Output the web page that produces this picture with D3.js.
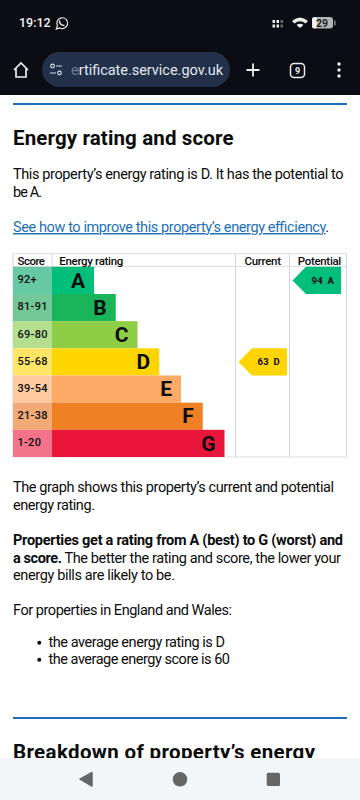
<!DOCTYPE html>
<html>
<head>
<meta charset="utf-8">
<script src="https://cdn.jsdelivr.net/npm/d3@7"></script>
<style>
  html, body { margin: 0; padding: 0; background: #fff; overflow: hidden; }
  text { font-family: Roboto, sans-serif; fill: #0b0c0c; }
</style>
</head>
<body>
<div id="page"></div>
<script>
// energy rating bands, top to bottom
const ratings = ["A", "B", "C", "D", "E", "F", "G"];
const scoreRanges = ["92+", "81-91", "69-80", "55-68", "39-54", "21-38", "1-20"];
const barLengths = [2, 3, 4, 5, 6, 7, 8];
const barColors = ["#00bf7a", "#19b459", "#8dce46", "#ffd500", "#fcaa65", "#ef8023", "#e9153b"];
const scoreColors = ["#66c9a6", "#74c797", "#b4df8f", "#ffe566", "#fcc9a0", "#f2aa76", "#f2738a"];

const columnHeaders = ["Score", "Energy rating", "Current", "Potential"];
const currentScore = 63;
const currentRating = "D";
const potentialScore = 94;
const potentialRating = "A";

const width = 360;
const height = 800;

const svg = d3.select("#page")
  .append("svg")
  .attr("width", width)
  .attr("height", height)
  .style("display", "block");

//////////////////////////////////
/////////// page chrome //////////
//////////////////////////////////

svg.append("rect").attr("width", width).attr("height", 95).attr("fill", "#0b0c14");

svg.append("text").text("19:12")
  .attr("x", 19).attr("y", 27)
  .style("fill", "#f2f2f2").style("font-size", "12.5px").style("font-weight", 500);

// whatsapp icon
svg.append("path")
  .attr("d", "M56.3 29 L57.4 25.6 A5.4 5.4 0 1 1 59.6 27.9 Z")
  .attr("fill", "none").attr("stroke", "#eee").attr("stroke-width", 1.2);
svg.append("path")
  .attr("d", "M59.5 20.5 Q59.5 25.5 64.5 25.5")
  .attr("fill", "none").attr("stroke", "#eee").attr("stroke-width", 1.4);

// signal, wifi and battery
svg.append("g").selectAll("rect")
  .data([0, 1, 2, 3, 4, 5])
  .join("rect")
    .attr("x", d => 272.5 + (d % 3) * 4)
    .attr("y", d => d < 3 ? 20 : 24.5)
    .attr("width", 2.5)
    .attr("height", 3)
    .attr("fill", d => d % 3 == 2 ? "#666" : "#eee");
svg.append("path").attr("d", "M292 21 Q300 14 308 21 L305.5 23.5 Q300 19 294.5 23.5 Z M296.5 25 Q300 22.5 303.5 25 L300 28 Z").attr("fill", "#eee");
svg.append("rect").attr("x", 312).attr("y", 17).attr("width", 21).attr("height", 11.5).attr("rx", 3).attr("fill", "#b4b4b4");
svg.append("rect").attr("x", 312).attr("y", 17).attr("width", 5).attr("height", 11.5).attr("rx", 2.5).attr("fill", "#f0f0f0");
svg.append("rect").attr("x", 334).attr("y", 20.5).attr("width", 1.5).attr("height", 5).attr("fill", "#888");
svg.append("text").text("29")
  .attr("x", 322).attr("y", 27).attr("text-anchor", "middle")
  .style("fill", "#222").style("font-size", "10.5px").style("font-weight", 700);

// toolbar
svg.append("path")
  .attr("d", "M14 70 L21 63 L28 70 M16 68.5 V77 H26 V68.5")
  .attr("fill", "none").attr("stroke", "#eee").attr("stroke-width", 1.7);
svg.append("rect").attr("x", 42).attr("y", 52).attr("width", 188).attr("height", 35).attr("rx", 17.5).attr("fill", "#22304a");
svg.append("g").attr("stroke", "#d8dce4").attr("stroke-width", 1.2).attr("fill", "none")
  .call(g => {
    g.append("circle").attr("cx", 52.5).attr("cy", 66).attr("r", 1.8);
    g.append("path").attr("d", "M56 66 H62 M50 73 H56");
    g.append("circle").attr("cx", 59.5).attr("cy", 73).attr("r", 1.8);
  });
svg.append("text").text("ertificate.service.gov.uk")
  .attr("x", 71).attr("y", 75)
  .attr("textLength", 152)
  .style("fill", "#e4e8ee").style("font-size", "14.5px");
svg.append("rect").attr("x", 70).attr("y", 60).attr("width", 8).attr("height", 20).attr("fill", "#22304a").attr("opacity", 0.6);
svg.append("path").attr("d", "M246.5 70 H259.5 M253 63.5 V76.5").attr("stroke", "#eee").attr("stroke-width", 1.8);
svg.append("rect").attr("x", 290.5).attr("y", 63.5).attr("width", 14).attr("height", 14).attr("rx", 3.5)
  .attr("fill", "none").attr("stroke", "#eee").attr("stroke-width", 1.5);
svg.append("text").text("9")
  .attr("x", 297.5).attr("y", 74).attr("text-anchor", "middle")
  .style("fill", "#eee").style("font-size", "9px").style("font-weight", 700);
svg.append("g").selectAll("circle")
  .data([64, 70, 76])
  .join("circle")
    .attr("cx", 339).attr("cy", d => d).attr("r", 1.7).attr("fill", "#eee");

//////////////////////////////////
/////////// page text ////////////
//////////////////////////////////

const rule = y => svg.append("rect").attr("x", 13).attr("y", y).attr("width", 334).attr("height", 2).attr("fill", "#1d70b8");
rule(103);
rule(717);

// the gov.uk font has other widths than Roboto, so each line is fitted to where it ends
const bodySize = "14.5px";
const bodyLine = (str, y, end, weight) => svg.append("text").text(str)
  .attr("x", 13).attr("y", y)
  .attr("textLength", end - 13)
  .style("font-size", bodySize)
  .style("font-weight", weight || 400);

svg.append("text").text("Energy rating and score")
  .attr("x", 13).attr("y", 144.5)
  .attr("textLength", 220.5)
  .style("font-size", "20.5px").style("font-weight", 700);

bodyLine("This property’s energy rating is D. It has the potential to", 179.3, 343.5);
bodyLine("be A.", 196.7, 42);

const linkLine = bodyLine("", 232, 329);
linkLine.append("tspan").text("See how to improve this property’s energy efficiency")
  .style("fill", "#1d70b8").style("text-decoration", "underline");
linkLine.append("tspan").text(".");

bodyLine("The graph shows this property’s current and potential", 492.3, 334);
bodyLine("energy rating.", 509.5, 95);

bodyLine("Properties get a rating from A (best) to G (worst) and", 545, 343, 700);
const scoreLine = bodyLine("", 562.7, 341);
scoreLine.append("tspan").text("a score.").style("font-weight", 700);
scoreLine.append("tspan").text(" The better the rating and score, the lower your");
bodyLine("energy bills are likely to be.", 580, 175);

bodyLine("For properties in England and Wales:", 615, 232);

const bullets = ["the average energy rating is D", "the average energy score is 60"];
const bulletEnds = [225, 230];
svg.append("g").selectAll("text")
  .data(bullets)
  .join("text")
    .text(d => d)
    .attr("x", 48.5)
    .attr("y", (d, i) => 647 + i * 17)
    .attr("textLength", (d, i) => bulletEnds[i] - 48.5)
    .style("font-size", bodySize);
svg.append("g").selectAll("circle")
  .data(bullets)
  .join("circle")
    .attr("cx", 39.3)
    .attr("cy", (d, i) => 642.7 + i * 17)
    .attr("r", 2)
    .attr("fill", "#0b0c0c");

svg.append("text").text("Breakdown of property’s energy")
  .attr("x", 13).attr("y", 758.5)
  .attr("textLength", 302)
  .style("font-size", "20.5px").style("font-weight", 700);

//////////////////////////////////
/////////// the chart ////////////
//////////////////////////////////

const chart = svg.append("g").attr("class", "chart");

const y = d3.scaleBand()
  .domain(ratings)
  .range([266.8, 457]);

const x = d3.scaleLinear()
  .domain([0, 8])
  .range([50.5, 224.5]);

const scoreX = 13;
const barX = 52;

// grid lines sit under the bars
chart.append("g").selectAll("line")
  .data([235.5, 289.5, 346.5, 13])
  .join("line")
    .attr("x1", d => d).attr("x2", d => d)
    .attr("y1", 254).attr("y2", 457)
    .attr("stroke", "#d6d6d6").attr("stroke-width", 1);
chart.append("line").attr("x1", 13).attr("x2", 347).attr("y1", 253.8).attr("y2", 253.8).attr("stroke", "#dcdcdc");
chart.append("line").attr("x1", 13).attr("x2", 347).attr("y1", 266.3).attr("y2", 266.3).attr("stroke", "#dcdcdc");
chart.append("line").attr("x1", 13).attr("x2", 347).attr("y1", 457).attr("y2", 457).attr("stroke", "#dcdcdc");
chart.append("line").attr("x1", 52).attr("x2", 52).attr("y1", 254).attr("y2", 267).attr("stroke", "#dcdcdc");

const headerX = [17.5, 59.3, 244.5, 297.8];
const headerW = [27.5, 64, 36.5, 43.5];
chart.append("g").selectAll("text")
  .data(columnHeaders)
  .join("text")
    .text(d => d)
    .attr("x", (d, i) => headerX[i])
    .attr("y", 264.7)
    .attr("textLength", (d, i) => headerW[i])
    .style("font-size", "11.5px")
    .style("font-weight", 500);

const rows = chart.append("g").selectAll("g")
  .data(ratings)
  .join("g");

rows.append("rect")
  .attr("x", scoreX)
  .attr("y", d => y(d))
  .attr("width", barX - scoreX)
  .attr("height", y.bandwidth())
  .attr("fill", (d, i) => scoreColors[i]);

rows.append("rect")
  .attr("x", barX)
  .attr("y", d => y(d))
  .attr("width", (d, i) => x(barLengths[i]) - barX)
  .attr("height", y.bandwidth())
  .attr("fill", (d, i) => barColors[i]);

rows.append("text")
  .text((d, i) => scoreRanges[i])
  .attr("x", 17.5)
  .attr("y", d => y(d) + 16.5)
  .style("font-size", "11px")
  .style("font-weight", 500)
  .style("letter-spacing", "0.3px");

rows.append("text")
  .text(d => d)
  .attr("x", (d, i) => x(barLengths[i]) - 9)
  .attr("y", d => y(d) + 20.8)
  .attr("text-anchor", "end")
  .style("font-size", "21px")
  .style("font-weight", 700);

// arrow tags for current and potential
function tag(score, rating, right) {
  const top = y(rating);
  const h = y.bandwidth();
  const left = right - 48.5;
  chart.append("path")
    .attr("d", d3.line()([[right, top], [left + 13.5, top], [left, top + h / 2], [left + 13.5, top + h], [right, top + h]]) + "Z")
    .attr("fill", barColors[ratings.indexOf(rating)]);
  chart.append("text")
    .text(score)
    .attr("x", right - 29.4)
    .attr("y", top + h / 2 + 3.3)
    .style("font-size", "9.5px")
    .style("font-weight", 700)
    .style("letter-spacing", "0.3px");
  chart.append("text")
    .text(rating)
    .attr("x", right - 13.5)
    .attr("y", top + h / 2 + 3.3)
    .style("font-size", "9.5px")
    .style("font-weight", 700);
}
tag(currentScore, currentRating, 287);
tag(potentialScore, potentialRating, 341);

//////////////////////////////////
/////////// nav bar //////////////
//////////////////////////////////

svg.append("rect").attr("y", 758).attr("width", width).attr("height", 42).attr("fill", "#f3f6f9");
svg.append("path").attr("d", "M92 772.5 V786 L80 779.2 Z").attr("fill", "#666").attr("stroke", "#666").attr("stroke-width", 1.5).attr("stroke-linejoin", "round");
svg.append("circle").attr("cx", 180).attr("cy", 779.3).attr("r", 7.3).attr("fill", "#666");
svg.append("rect").attr("x", 266.7).attr("y", 772.7).attr("width", 13.3).attr("height", 13.3).attr("rx", 1.5).attr("fill", "#666");
</script>
</body>
</html>
